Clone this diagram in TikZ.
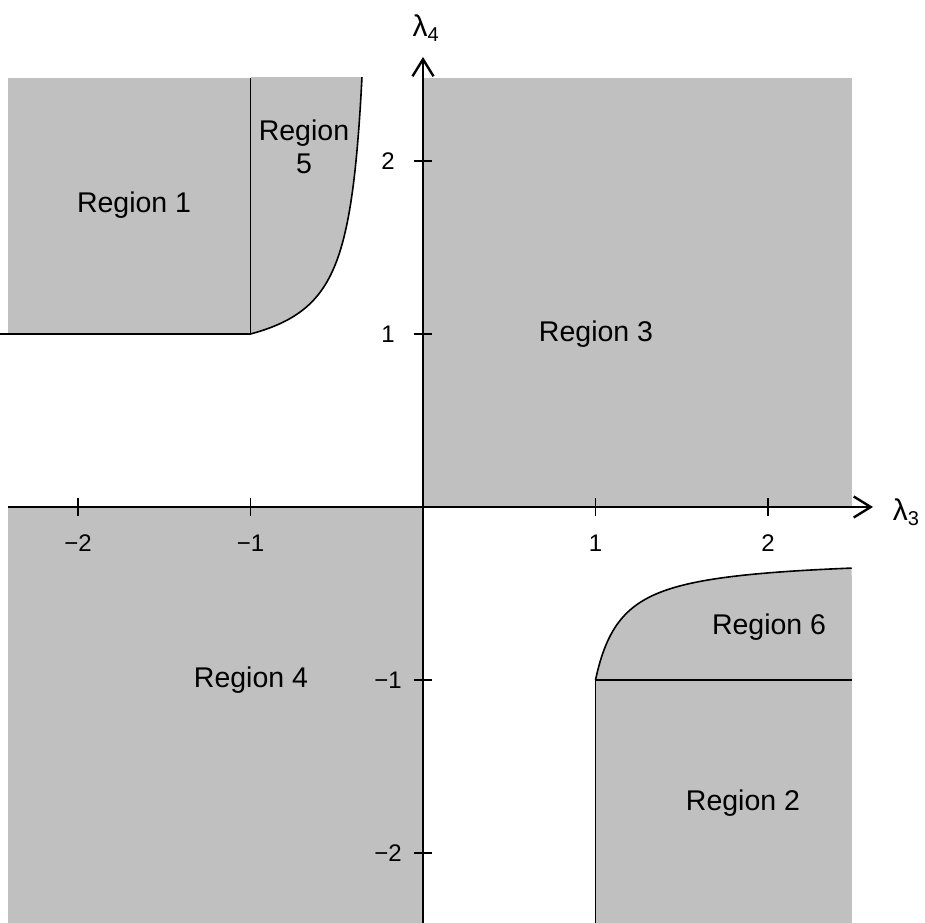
\documentclass[tikz,border=0pt]{standalone}
\usepackage{fontspec}
\setmainfont{Liberation Sans}
\usetikzlibrary{arrows.meta}
\definecolor{regiongray}{RGB}{192,192,192}
\begin{document}
\begin{tikzpicture}[x=172.5pt,y=173pt,
  regionfill/.style={fill=regiongray},
  boundary/.style={line width=1.8pt},
  curveline/.style={line width=1.6pt},
  axisline/.style={line width=2.4pt,-{Straight Barb[length=17pt,width=21pt]}},
  axistick/.style={line width=1.8pt},
  ticklabel/.style={font=\fontsize{24}{28}\selectfont,inner sep=0pt},
  regionlabel/.style={font=\fontsize{28.5}{33}\selectfont,align=center,inner sep=0pt},
  axislabel/.style={inner sep=0pt},
  curvefive/.style={domain=-1:-0.345,samples=160},
  curvesix/.style={domain=1:2.487,samples=120}]
\useasboundingbox (-2.4522,-2.4046) rectangle (2.9101,2.9306);
% ---- Region 5 (clipped to the top of the plotted area)
\begin{scope}
  \clip (-1.2,0.9) rectangle (0,2.4798);
  \fill[regionfill] (-1,2.7) -- plot[curvefive] (\x,{0.804-0.1434/(\x+0.2685)}) -- cycle;
  \draw[curveline] plot[curvefive] (\x,{0.804-0.1434/(\x+0.2685)});
\end{scope}
% ---- filled regions
\fill[regionfill] (-2.4058,1) rectangle (-1,2.4798);           % Region 1
\fill[regionfill] (0,0) rectangle (2.487,2.4798);               % Region 3
\fill[regionfill] (-2.4058,-2.4046) rectangle (0,0);            % Region 4
\fill[regionfill] (2.487,-1) -- plot[curvesix] (\x,{-0.2865-0.1091/(\x-0.847)}) -- cycle;  % Region 6
\fill[regionfill] (1,-2.4046) rectangle (2.487,-1);             % Region 2
% ---- boundaries
\coordinate (b1l) at (-2.4522,1);
\coordinate (b1c) at (-1,1);
\coordinate (b1t) at (-1,2.4798);
\draw[boundary] (b1l) -- (b1c) -- (b1t);
\coordinate (b2b) at (1,-2.4046);
\coordinate (b2c) at (1,-1);
\coordinate (b2r) at (2.487,-1);
\draw[boundary] (b2b) -- (b2c) -- (b2r);
\draw[curveline] plot[curvesix] (\x,{-0.2865-0.1091/(\x-0.847)});
% ---- axes
\coordinate (xstart) at (-2.4058,0);
\coordinate (xend) at (2.6087,0);
\coordinate (ystart) at (0,-2.4046);
\coordinate (yend) at (0,2.6012);
\draw[axisline] (xstart) -- (xend);
\draw[axisline] (ystart) -- (yend);
% ---- ticks
\foreach \v/\lab/\nm in {-2/{−2}/m2,-1/{−1}/m1,1/1/p1,2/2/p2}{
  \coordinate (xt\nm a) at (\v,-0.052);
  \coordinate (xt\nm b) at (\v,0.052);
  \draw[axistick] (xt\nm a) -- (xt\nm b);
  \node[ticklabel] (xl\nm) at (\v,-0.208) {\lab};
  \coordinate (yt\nm a) at (-0.055,\v);
  \coordinate (yt\nm b) at (0.055,\v);
  \draw[axistick] (yt\nm a) -- (yt\nm b);
  \node[ticklabel] (yl\nm) at (-0.203,\v) {\lab};
}
% ---- axis labels
\node[axislabel] (lam3) at (2.80,-0.03)
  {\fontsize{30}{36}\selectfont λ\raisebox{-5pt}{\fontsize{20}{22}\selectfont 3}};
\node[axislabel] (lam4) at (0.015,2.77)
  {\fontsize{30}{36}\selectfont λ\raisebox{-5pt}{\fontsize{20}{22}\selectfont 4}};
% ---- region labels
\node[regionlabel] (r1) at (-1.675,1.746) {Region 1};
\node[regionlabel] (r5) at (-0.690,2.081) {Region\\5};
\node[regionlabel] (r3) at (1.003,1.0) {Region 3};
\node[regionlabel] (r4) at (-0.997,-1.0) {Region 4};
\node[regionlabel] (r6) at (2.006,-0.694) {Region 6};
\node[regionlabel] (r2) at (1.855,-1.711) {Region 2};
\end{tikzpicture}
\end{document}
